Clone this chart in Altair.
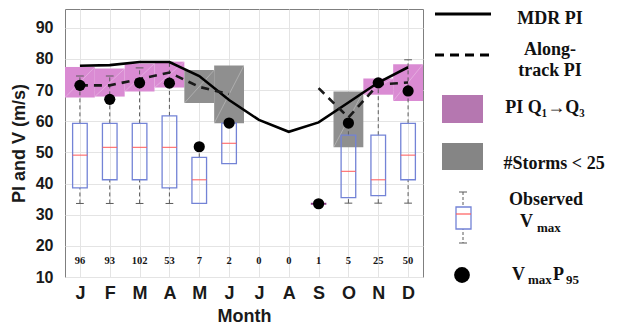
import altair as alt
import pandas as pd

# ---------------- data ----------------
months = ["J", "F", "M", "A", "M", "J", "J", "A", "S", "O", "N", "D"]
month_num = list(range(1, 13))
storm_counts = [96, 93, 102, 53, 7, 2, 0, 0, 1, 5, 25, 50]
mdr_pi = [77.8, 78.0, 79.0, 79.0, 74.5, 66.8, 60.4, 56.6, 59.6, 66.0, 72.4, 77.3]
along_pi = [71.5, 71.5, 73.5, 75.6, 71.0, 68.7, None, None, 70.6, 61.2, 71.8, 72.4]
pi_q1 = [67.6, 67.9, 69.5, 70.8, 65.8, 59.3, None, None, None, 51.6, 68.5, 66.5]
pi_q3 = [77.4, 76.9, 78.5, 79.1, 76.4, 77.9, None, None, None, 69.5, 73.7, 78.3]
vmax_lo = [33.6, 33.6, 33.6, 33.6, 33.6, 46.4, None, None, 33.5, 33.7, 33.7, 33.7]
vmax_q1 = [38.6, 41.2, 41.2, 38.6, 33.6, 46.4, None, None, 33.5, 35.5, 36.1, 41.2]
vmax_med = [49.1, 51.6, 51.6, 51.6, 41.2, 52.9, None, None, 33.5, 43.9, 41.2, 49.1]
vmax_q3 = [59.3, 59.3, 59.3, 61.7, 48.4, 59.4, None, None, 33.5, 55.5, 55.5, 59.3]
vmax_hi = [74.5, 74.5, 77.1, 78.9, 51.6, 59.4, None, None, 33.5, 59.4, 72.2, 79.7]
vmax_p95 = [71.5, 67.0, 72.3, 72.2, 51.8, 59.4, None, None, 33.5, 59.4, 72.3, 69.7]

# ---------------- styling / layout ----------------
W, H = 358, 268
PINK = "#da8bd3"
GRAY = "#8f8f8f"
BOX_BLUE = "#7383d6"
MED_RED = "#ff5c5c"
FLAT_BOX = "#8a3a86"
WHISK = "#5a5a5a"
SANS = "Liberation Sans"
SERIF = "Liberation Serif"

df = pd.DataFrame({
    "m": month_num, "lab": months, "n": storm_counts,
    "mdr": mdr_pi, "along": along_pi, "q1": pi_q1, "q3": pi_q3,
    "lo": vmax_lo, "b1": vmax_q1, "med": vmax_med, "b3": vmax_q3,
    "hi": vmax_hi, "p95": vmax_p95,
})
df["fill"] = [PINK if c >= 25 else GRAY for c in storm_counts]
df["seg"] = [1 if m <= 6 else 2 for m in month_num]

xs = alt.Scale(domain=[0.5, 12.5], nice=False, zero=False)
ys = alt.Scale(domain=[10, 96], nice=False, zero=False)

label_js = "[" + ",".join('"%s"' % s for s in months) + "]"
x_axis = alt.Axis(values=month_num, labelExpr=label_js + "[datum.value-1]",
                  title="Month", grid=True, ticks=False, domain=False,
                  labelPadding=7, titlePadding=5, labelOverlap=False,
                  labelFlush=False, labelBound=False)
y_axis = alt.Axis(values=list(range(10, 91, 10)), title="PI and V (m/s)",
                  grid=True, ticks=False, domain=False, labelPadding=12,
                  titlePadding=7, labelOverlap=False, labelFlush=False)


def X(f):
    return alt.X(f, scale=xs, axis=x_axis)


def Y(f):
    return alt.Y(f, scale=ys, axis=y_axis)


base = alt.Chart(df)

# PI Q1->Q3 rectangles
rects = base.transform_filter("isValid(datum.q1)").transform_calculate(
    xa="datum.m - 0.5", xb="datum.m + 0.5"
).mark_rect().encode(
    x=X("xa:Q"), x2="xb:Q", y=Y("q1:Q"), y2="q3:Q",
    color=alt.Color("fill:N", scale=None),
)
diag = base.transform_filter("isValid(datum.q1)").transform_calculate(
    xa="datum.m - 0.5", xb="datum.m + 0.5"
).mark_rule(color="white", opacity=0.35, strokeWidth=0.8).encode(
    x=X("xa:Q"), x2="xb:Q", y=Y("q1:Q"), y2="q3:Q",
)

# boxplots of observed Vmax
bx = base.transform_filter("isValid(datum.med)")
whisk_up = bx.transform_filter("datum.hi > datum.b3").mark_rule(
    color=WHISK, strokeDash=[4, 3], strokeWidth=1).encode(
    x=X("m:Q"), y=Y("b3:Q"), y2="hi:Q")
whisk_dn = bx.transform_filter("datum.lo < datum.b1").mark_rule(
    color=WHISK, strokeDash=[4, 3], strokeWidth=1).encode(
    x=X("m:Q"), y=Y("lo:Q"), y2="b1:Q")
cap_up = bx.transform_filter("datum.hi > datum.b3").transform_calculate(
    ca="datum.m - 0.13", cb="datum.m + 0.13").mark_rule(
    color=WHISK, strokeWidth=1).encode(
    x=X("ca:Q"), x2="cb:Q", y=Y("hi:Q"))
cap_dn = bx.transform_filter("datum.lo < datum.b1").transform_calculate(
    ca="datum.m - 0.13", cb="datum.m + 0.13").mark_rule(
    color=WHISK, strokeWidth=1).encode(
    x=X("ca:Q"), x2="cb:Q", y=Y("lo:Q"))
box = bx.transform_filter("datum.b3 > datum.b1").transform_calculate(
    ba="datum.m - 0.245", bb="datum.m + 0.245").mark_rect(
    fill=None, stroke=BOX_BLUE, strokeWidth=1.3).encode(
    x=X("ba:Q"), x2="bb:Q", y=Y("b1:Q"), y2="b3:Q")
median = bx.transform_filter("datum.b3 > datum.b1").transform_calculate(
    ba="datum.m - 0.245", bb="datum.m + 0.245").mark_rule(
    color=MED_RED, strokeWidth=1.2, opacity=0.85).encode(
    x=X("ba:Q"), x2="bb:Q", y=Y("med:Q"))
flat_box = bx.transform_filter("datum.b3 <= datum.b1").transform_calculate(
    ba="datum.m - 0.26", bb="datum.m + 0.26").mark_rule(
    color=FLAT_BOX, strokeWidth=2).encode(
    x=X("ba:Q"), x2="bb:Q", y=Y("med:Q"))

# PI lines
mdr_line = base.mark_line(color="black", strokeWidth=2.6).encode(
    x=X("m:Q"), y=Y("mdr:Q"))
along_line = base.transform_filter("isValid(datum.along)").mark_line(
    color="#1a1a1a", strokeWidth=2.6, strokeDash=[8, 6]).encode(
    x=X("m:Q"), y=Y("along:Q"), detail="seg:N")

# P95 dots
dots = base.transform_filter("isValid(datum.p95)").mark_circle(
    color="black", size=125, opacity=1).encode(
    x=X("m:Q"), y=Y("p95:Q"))

# storm counts
counts = base.mark_text(font=SERIF, fontSize=10.5, fontWeight="bold",
                        color="#151515", baseline="middle").encode(
    x=X("m:Q"), y=alt.YDatum(15, scale=ys, axis=y_axis), text="n:Q")

# ---------------- legend (drawn in pixels to the right of the plot) ----------------
one = alt.Data(values=[{"k": 0}])
leg = []
# solid & dashed line samples
leg.append(alt.Chart(one).mark_rule(color="black", strokeWidth=3).encode(
    x=alt.value(370), x2=alt.value(426), y=alt.value(5)))
leg.append(alt.Chart(one).mark_rule(color="black", strokeWidth=3, strokeDash=[9, 6]).encode(
    x=alt.value(370), x2=alt.value(426), y=alt.value(46)))
# swatches
leg.append(alt.Chart(one).mark_rect(color="#b577b0").encode(
    x=alt.value(377), x2=alt.value(418), y=alt.value(86), y2=alt.value(114)))
leg.append(alt.Chart(one).mark_rect(color="#858585").encode(
    x=alt.value(377), x2=alt.value(418), y=alt.value(134), y2=alt.value(161)))
# boxplot icon
leg.append(alt.Chart(one).mark_rule(color=WHISK, strokeDash=[3, 2], strokeWidth=1).encode(
    x=alt.value(398), y=alt.value(183), y2=alt.value(234)))
for yy in (183, 234):
    leg.append(alt.Chart(one).mark_rule(color=WHISK, strokeWidth=1).encode(
        x=alt.value(394), x2=alt.value(402), y=alt.value(yy)))
leg.append(alt.Chart(one).mark_rect(fill="white", stroke=BOX_BLUE, strokeWidth=1.3).encode(
    x=alt.value(391), x2=alt.value(406), y=alt.value(198), y2=alt.value(220)))
leg.append(alt.Chart(one).mark_rule(color=MED_RED, strokeWidth=1.2).encode(
    x=alt.value(391), x2=alt.value(406), y=alt.value(205)))
# dot
leg.append(alt.Chart(one).mark_circle(color="black", size=250, opacity=1).encode(
    x=alt.value(397), y=alt.value(266)))

legend_texts = [
    # text, x, baseline y, size, align
    ("MDR PI", 485, 15, 18, "center"),
    ("Along-", 485, 46, 18, "center"),
    ("track PI", 485, 67, 18, "center"),
    ("PI Q\u2081\u2192Q\u2083", 480, 104, 18, "center"),
    ("#Storms < 25", 489, 160, 18, "center"),
    ("Observed", 481, 196, 18, "center"),
    ("V", 455, 218, 18, "left"),
    ("max", 472, 223, 13, "left"),
    ("V", 447, 271, 18, "left"),
    ("max", 463, 275, 13, "left"),
    ("P", 488, 271, 18, "left"),
    ("95", 501, 275, 13, "left"),
]
for t, x, y, s, a in legend_texts:
    leg.append(alt.Chart(one).mark_text(font=SERIF, fontWeight="bold", fontSize=s,
                                        align=a, baseline="alphabetic",
                                        color="#111111").encode(
        x=alt.value(x), y=alt.value(y), text=alt.value(t)))

chart = alt.layer(
    rects, diag, whisk_up, whisk_dn, cap_up, cap_dn, box, median,
    flat_box, mdr_line, along_line, dots, counts, *leg
).properties(
    width=W, height=H,
    autosize=alt.AutoSizeParams(type="none"),
    padding={"left": 57, "top": 1, "right": 190, "bottom": 50},
).configure_view(
    stroke="#7f7f7f", strokeWidth=1
).configure_axis(
    labelFont=SANS, labelFontWeight="bold", labelColor="#1a1a1a",
    titleFont=SANS, titleFontWeight="bold", titleColor="#1a1a1a",
    gridColor="#e4e4e4", gridWidth=1, labelOverlap=False,
).configure_axisX(
    labelFontSize=18, titleFontSize=18,
).configure_axisY(
    labelFontSize=16, titleFontSize=18,
)

chart.save("out.html", embed_options={"renderer": "svg", "actions": False})
